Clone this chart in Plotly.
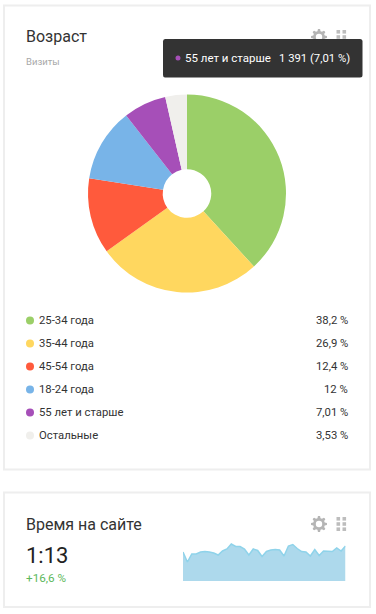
import math
import plotly.graph_objects as go

W, H = 376, 614
FONT = "Roboto, 'Noto Sans', sans-serif"

age_labels = ["25-34 года", "35-44 года", "45-54 года", "18-24 года", "55 лет и старше", "Остальные"]
age_share = [38.2, 26.9, 12.4, 12, 7.01, 3.53]
age_text = ["38,2 %", "26,9 %", "12,4 %", "12 %", "7,01 %", "3,53 %"]
age_colors = ["#9bcf68", "#ffd75f", "#ff5a3c", "#78b4e8", "#a64fb8", "#f0efec"]
time_values = [29, 19, 27, 27, 29, 29.5, 29, 28, 26, 30, 32, 37, 34.5, 34.5, 32, 26, 32, 30.5,
               24.5, 29.5, 31, 31.5, 31, 25, 35, 36.5, 32.5, 29.5, 29, 25, 31.5, 25.5, 30, 30, 29.5, 33, 30, 35]


def gear(cx, cy, r):
    pts = []
    for i in range(48):
        a = 2 * math.pi * i / 48
        rr = r if (i % 6) in (0, 1, 5) else r * 0.74
        pts.append((cx + rr * math.cos(a), cy + rr * math.sin(a)))
    outer = "M" + " L".join(f"{x:.2f},{y:.2f}" for x, y in pts) + " Z"
    return dict(type="path", xref="x2", yref="y2", path=outer, fillcolor="#b5b5b5", line=dict(width=0))


def hole(cx, cy, r):
    return dict(type="circle", xref="x2", yref="y2", x0=cx - r, x1=cx + r, y0=cy - r, y1=cy + r,
                fillcolor="white", line=dict(width=0))


def handle(cx, cy):
    out = []
    for col in (0, 1):
        for row in (0, 1, 2):
            x = cx - 4.5 + col * 6
            y = cy - 7 + row * 5.2
            out.append(dict(type="rect", xref="x2", yref="y2", x0=x, x1=x + 3.6, y0=y, y1=y + 3.6,
                            fillcolor="#bdbdbd", line=dict(width=0)))
    return out


def label(x, y, text, size=12, color="#333", anchor="left"):
    return dict(xref="x2", yref="y2", x=x, y=y, text=text, showarrow=False, xanchor=anchor, yanchor="middle",
                font=dict(family=FONT, size=size, color=color))


fig = go.Figure()

# Time-on-site area
fig.add_trace(go.Scatter(x=list(range(len(time_values))), y=time_values, mode="lines", fill="tozeroy",
                         line=dict(color="#8fd3ea", width=1.5), fillcolor="#add9ec", hoverinfo="skip",
                         xaxis="x", yaxis="y", showlegend=False))

# Legend markers on a pixel overlay axis
rows = list(range(len(age_labels)))
fig.add_trace(go.Scatter(x=[30] * len(rows), y=[320.5 + 23 * i for i in rows], mode="markers",
                         marker=dict(color=age_colors, size=8), hoverinfo="skip",
                         xaxis="x2", yaxis="y2", showlegend=False))

# Pie
fig.add_trace(go.Pie(values=age_share, labels=age_labels, marker=dict(colors=age_colors, line=dict(width=0)),
                     hole=0.245, sort=False, direction="clockwise", rotation=0, textinfo="none",
                     hoverinfo="skip", showlegend=False,
                     domain=dict(x=[88 / W, 286 / W], y=[1 - 293 / H, 1 - 94 / H])))

shapes = [
    dict(type="rect", xref="x2", yref="y2", x0=4, x1=370, y0=5.5, y1=469.5, fillcolor="rgba(0,0,0,0)", layer="below",
         line=dict(color="#eeeeee", width=2)),
    dict(type="rect", xref="x2", yref="y2", x0=4, x1=370, y0=492.5, y1=607, fillcolor="rgba(0,0,0,0)", layer="below",
         line=dict(color="#eeeeee", width=2)),
]
shapes += [gear(319, 37, 8), hole(319, 37, 3.2)] + handle(341, 37)
shapes += [gear(319, 524, 8), hole(319, 524, 3.2)] + handle(341, 524)
shapes.append(dict(type="path", xref="x2", yref="y2",
                   path="M165,39 L360,39 Q362.5,39 362.5,41.5 L362.5,75 Q362.5,77.5 360,77.5 L165,77.5 "
                        "Q163,77.5 163,75 L163,41.5 Q163,39 165,39 Z",
                   fillcolor="#333333", line=dict(width=0)))
shapes.append(hole(178, 58, 2.5) | dict(fillcolor=age_colors[4]))

annotations = [
    label(24, 36, "Возраст", 16),
    label(24, 61, "Визиты", 9.5, "#a8a8a8"),
    label(183, 58, "55 лет и старше", 11.5, "#ffffff"),
    label(352, 58, "1 391 (7,01 %)", 11.3, "#ffffff", "right"),
    label(24, 524.5, "Время на сайте", 16),
    label(24, 555.5, "1:13", 22, "#222222"),
    label(24, 578, "+16,6 %", 11.7, "#5cb85c"),
]
for i in rows:
    annotations.append(label(37, 320.5 + 23 * i, age_labels[i], 11.3))
    annotations.append(label(350, 320.5 + 23 * i, age_text[i], 11.3, "#333", "right"))

fig.update_layout(
    width=W, height=H, margin=dict(l=0, r=0, t=0, b=0), autosize=False,
    paper_bgcolor="white", plot_bgcolor="rgba(0,0,0,0)",
    xaxis=dict(domain=[183 / W, 345.5 / W], range=[0, len(time_values) - 1], visible=False, fixedrange=True, anchor="y"),
    yaxis=dict(domain=[1 - 581 / H, 1 - 530 / H], range=[0, 51], visible=False, fixedrange=True, anchor="x"),
    xaxis2=dict(domain=[0, 1], range=[0, W], visible=False, fixedrange=True, anchor="y2"),
    yaxis2=dict(domain=[0, 1], range=[H, 0], visible=False, fixedrange=True, anchor="x2"),
    shapes=shapes, annotations=annotations,
)
fig.write_html("out.html", config=dict(displayModeBar=False),
               post_script="document.body.style.margin='0';document.documentElement.style.overflow='hidden';")
